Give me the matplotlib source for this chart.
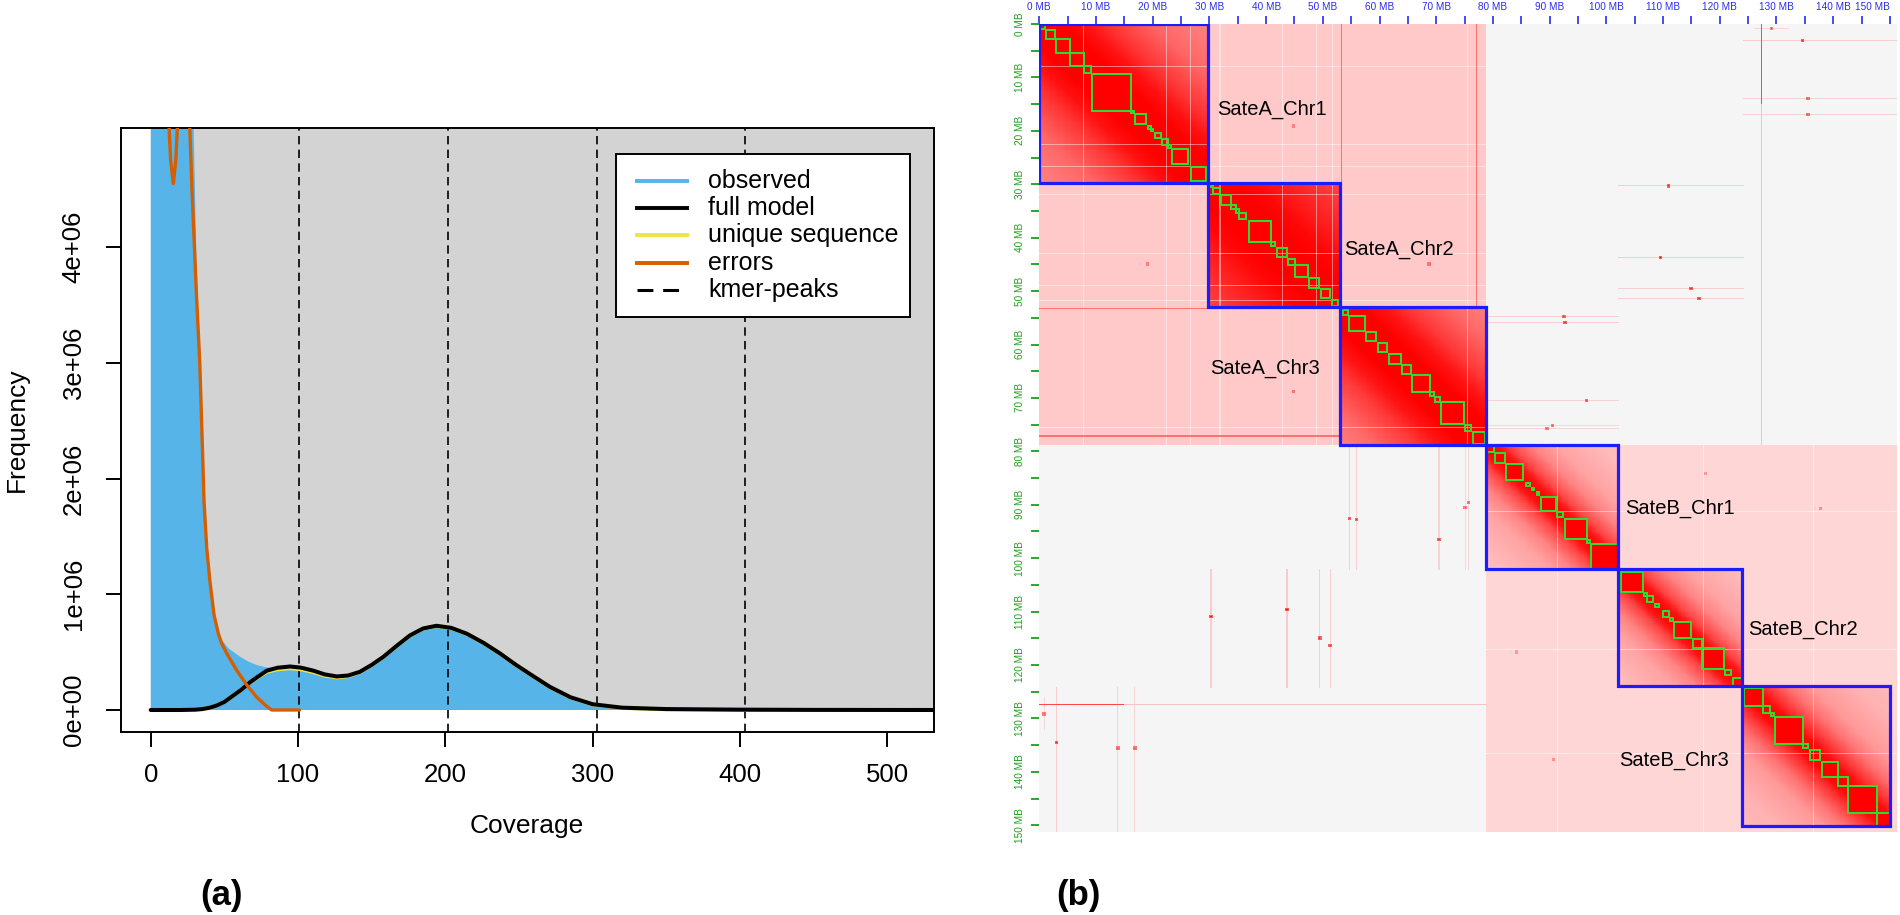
import numpy as np
import matplotlib
matplotlib.use('Agg')
import matplotlib.pyplot as plt
from matplotlib.patches import Rectangle
from matplotlib.lines import Line2D

plt.rcParams['font.family'] = ['Liberation Sans', 'DejaVu Sans']

# ---------------- panel (a) data (GenomeScope profile) ----------------
obs_x = [0, 5, 10, 15, 20, 25, 27, 29, 31, 33.3, 35, 36.2, 38, 40.3, 43, 45.9, 48.2, 53, 60.6,
         66, 71.9, 77, 83.2, 92, 101.3, 112, 123.9, 133, 146.5, 158, 167, 176, 185, 194, 204,
         214.5, 226, 237, 248, 260, 271, 285, 300, 320, 350, 400, 450, 500, 531.8]
obs_y = [9.0, 8.8, 8.5, 8.2, 7.8, 6.6, 5.9, 5.1, 3.9, 3.05, 2.35, 1.9, 1.45, 1.12, 0.84, 0.68, 0.605,
         0.53, 0.461, 0.42, 0.389, 0.372, 0.36, 0.348, 0.34, 0.315, 0.297, 0.305, 0.346, 0.46, 0.56,
         0.65, 0.71, 0.735, 0.72, 0.67, 0.59, 0.50, 0.40, 0.295, 0.20, 0.11, 0.05, 0.02, 0.008,
         0.003, 0.001, 0.0, 0.0]

err_x = [0, 5, 10, 11.8, 13.5, 15.3, 17, 18.7, 20, 22, 24, 26.3, 28, 31, 33.3, 35, 36.2, 38, 40.3,
         43, 45.9, 48, 51.6, 58, 65.2, 72, 78, 82.1, 101]
err_y = [9.5, 8.0, 6.0, 5.2, 4.75, 4.55, 4.75, 5.2, 5.8, 6.3, 6.0, 5.1, 4.5, 3.6, 3.0, 2.3, 1.8, 1.4,
         1.1, 0.82, 0.66, 0.58, 0.49, 0.35, 0.216, 0.11, 0.04, 0.0, 0.0]

model_x = [0, 20, 30, 35, 40, 45, 50, 56, 62, 67.4, 73, 78.8, 86, 94.6, 102, 110.4, 118, 126.3, 134,
           142, 150, 158, 167, 176, 185, 194, 204, 214.5, 226, 237, 248, 260, 271, 285, 300, 320,
           350, 400, 450, 531.8]
model_y = [0, 0, 0.003, 0.008, 0.02, 0.04, 0.07, 0.125, 0.18, 0.24, 0.29, 0.34, 0.365, 0.376, 0.366,
           0.34, 0.308, 0.29, 0.298, 0.33, 0.39, 0.46, 0.555, 0.645, 0.705, 0.728, 0.71, 0.66, 0.58,
           0.49, 0.39, 0.29, 0.2, 0.11, 0.05, 0.02, 0.008, 0.003, 0.001, 0.0]
unique_y = [0, 0, 0.003, 0.008, 0.02, 0.04, 0.07, 0.125, 0.18, 0.24, 0.285, 0.33, 0.352, 0.362, 0.352,
            0.328, 0.298, 0.282, 0.292, 0.327, 0.388, 0.458, 0.553, 0.643, 0.703, 0.726, 0.708, 0.658,
            0.578, 0.488, 0.388, 0.288, 0.198, 0.108, 0.048, 0.018, 0.006, 0.001, 0.0, 0.0]

kmer_peaks = [100.9, 201.8, 302.7, 403.6]
cov_ticks = [0, 100, 200, 300, 400, 500]
freq_ticks = [0, 1e6, 2e6, 3e6, 4e6]
freq_labels = ['0e+00', '1e+06', '2e+06', '3e+06', '4e+06']
legend_labels = ['observed', 'full model', 'unique sequence', 'errors', 'kmer-peaks']

# ---------------- panel (b) data (Hi-C map) ----------------
map_end = 151.2
chrom_bounds = [0, 29.8, 53.0, 78.8, 102.1, 123.9, 150.1]
chrom_names = ['SateA_Chr1', 'SateA_Chr2', 'SateA_Chr3', 'SateB_Chr1', 'SateB_Chr2', 'SateB_Chr3']
label_x = [31.3, 53.7, 30.1, 103.3, 125.0, 102.3]
label_y = [16.0, 42.1, 64.5, 90.7, 113.3, 137.9]

prof_dist = [0, 2, 4, 8, 12, 20, 30]
chr_profiles = [
    [1.0, 1.0, 1.0, 0.93, 0.80, 0.60, 0.48],
    [1.0, 1.0, 1.0, 0.97, 0.90, 0.78, 0.65],
    [1.0, 1.0, 1.0, 0.92, 0.78, 0.58, 0.45],
    [1.0, 0.92, 0.72, 0.48, 0.36, 0.27, 0.24],
    [1.0, 0.92, 0.72, 0.48, 0.36, 0.27, 0.24],
    [1.0, 0.95, 0.80, 0.55, 0.40, 0.30, 0.26],
]
inter_A = 0.21
inter_B = 0.16

tad_start = [0.2, 1.2, 2.9, 5.4, 7.9, 9.3, 16.2, 16.9, 19.1, 19.7, 20.4, 21.6, 22.7, 23.4, 26.8,
             30.1, 30.7, 32.0, 33.8, 34.7, 35.3, 36.9, 40.9, 41.9, 43.9, 45.1, 47.6, 49.6, 51.6,
             53.5, 54.6, 57.6, 59.7, 61.7, 63.9, 65.7, 68.9, 69.8, 70.8, 75.0, 76.4,
             79.0, 80.4, 82.3, 85.9, 86.8, 87.7, 88.5, 91.3, 92.7, 96.6, 97.3,
             102.6, 106.6, 107.1, 108.6, 109.9, 111.2, 111.9, 115.2, 116.9, 120.9, 122.4,
             124.3, 127.7, 129.0, 129.8, 134.7, 135.9, 138.1, 140.9, 142.7, 147.7]
tad_end = [1.0, 2.8, 5.4, 7.9, 9.1, 16.2, 16.7, 18.8, 19.7, 20.1, 21.4, 22.7, 23.2, 26.3, 29.4,
           30.6, 31.9, 33.8, 34.7, 35.3, 36.5, 40.9, 41.6, 43.7, 45.1, 47.4, 49.4, 51.3, 52.7,
           54.5, 57.4, 59.4, 61.4, 63.7, 65.5, 68.9, 69.6, 70.7, 74.9, 76.1, 78.6,
           80.1, 82.1, 85.3, 86.5, 87.3, 88.2, 91.1, 92.3, 96.5, 97.2, 102.0,
           106.4, 107.1, 108.2, 109.2, 111.1, 111.8, 114.9, 116.8, 120.8, 121.9, 124.0,
           127.7, 128.9, 129.6, 134.7, 135.6, 137.7, 140.9, 142.7, 147.7, 150.1]

gap_pos = [7.9, 22.5, 26.7, 31.9, 42.9, 48.9, 51.6, 75.4, 91.3, 117.0, 136.5]
hot_A_rows = [53.3, 77.1]
# trans contacts (A position, B position, strength, streak range along B)
spot_a = [3.1, 30.2, 43.8, 49.5, 51.3, 54.6, 55.9, 70.5, 75.1, 75.7, 13.9, 16.9, 0.9]
spot_b = [134.5, 110.8, 109.5, 114.8, 116.3, 92.5, 92.8, 96.5, 90.5, 89.5, 135.6, 135.6, 129.2]
spot_s = [0.9, 0.9, 0.95, 0.85, 0.85, 0.85, 0.85, 0.8, 0.7, 0.7, 0.75, 0.75, 0.7]
streak_lo = [124.0, 102.1, 102.1, 102.1, 102.1, 78.8, 78.8, 78.8, 78.8, 78.8, 124.0, 124.0, 126.0]
streak_hi = [151.2, 124.0, 124.0, 124.0, 124.0, 102.1, 102.1, 102.1, 102.1, 102.1, 151.2, 151.2, 132.0]
b_locus = 127.3
# cis spots within a subgenome (x, y, strength)
cis_x = [68.7, 19.2, 137.7, 117.5]
cis_y = [44.9, 44.9, 90.8, 84.0]
cis_s = [0.55, 0.5, 0.45, 0.4]

mb_major = list(range(0, 151, 10))
mb_minor = list(range(5, 151, 10))
mb_labels = ['0 MB', '10 MB', '20 MB', '30 MB', '40 MB', '50 MB', '60 MB', '70 MB', '80 MB',
             '90 MB', '100 MB', '110 MB', '120 MB', '130 MB', '140 MB', '150 MB']

# ---------------- figure ----------------
W, H = 1900, 915
fig = plt.figure(figsize=(W / 100, H / 100), dpi=100)

def fr(x0, y0, x1, y1):
    return [x0 / W, 1 - y1 / H, (x1 - x0) / W, (y1 - y0) / H]

# ===== panel (a) =====
ax = fig.add_axes(fr(120.7, 128.3, 934.0, 731.7))
ax.set_xlim(-20.4, 531.8)
ax.set_ylim(-0.1876e6, 5.028e6)
M = 1e6
ax.add_patch(Rectangle((0, 0), 600, 6 * M, facecolor='#D3D3D3', edgecolor='none', zorder=1))
ax.fill_between(obs_x, 0, [v * M for v in obs_y], color='#56B4E9', lw=0, zorder=2)
for p in kmer_peaks:
    ax.axvline(p, color='black', lw=1.2, dashes=(5, 3.2), zorder=3)
ax.plot(model_x, [v * M for v in unique_y], color='#F0E442', lw=2.9, zorder=4, solid_capstyle='round')
ax.plot(model_x, [v * M for v in model_y], color='black', lw=2.9, zorder=5, solid_capstyle='round')
ax.plot(err_x, [v * M for v in err_y], color='#D55E00', lw=2.4, zorder=6, solid_capstyle='round')

ax.set_xticks(cov_ticks)
ax.set_xticklabels([str(t) for t in cov_ticks])
ax.set_yticks(freq_ticks)
ax.set_yticklabels(freq_labels, rotation=90, va='center')
ax.tick_params(axis='x', length=10.8, width=1.4, pad=11.5, labelsize=18.5)
ax.tick_params(axis='y', length=10.8, width=1.4, pad=14.5, labelsize=18.5)
for s in ax.spines.values():
    s.set_linewidth(1.4)
fig.text(16.5 / W, 1 - 430 / H, 'Frequency', rotation=90, ha='center', va='center', fontsize=19)
fig.text(527 / W, 1 - 826 / H, 'Coverage', ha='center', va='center', fontsize=19)

# legend (drawn in axes fraction)
def af(X, Y):
    return ((X - 120.7) / 813.3, (731.7 - Y) / 603.7)

lx0, ly0 = af(616, 316.4)
lx1, ly1 = af(910, 154)
ax.add_patch(Rectangle((lx0, ly0), lx1 - lx0, ly1 - ly0, transform=ax.transAxes,
                       facecolor='white', edgecolor='black', lw=1.4, zorder=10))
leg_rows = [181, 208, 235, 262.5, 289.6]
leg_cols = ['#56B4E9', 'black', '#F0E442', '#D55E00', 'black']
for i, (yy, col, lab) in enumerate(zip(leg_rows, leg_cols, legend_labels)):
    xa, ya = af(637, yy)
    xb, _ = af(687, yy)
    if i == 4:
        ln = Line2D([xa, xb], [ya, ya], transform=ax.transAxes, color=col, lw=2.2,
                    dashes=(5.2, 3.2), zorder=11)
    else:
        ln = Line2D([xa, xb], [ya, ya], transform=ax.transAxes, color=col, lw=2.8, zorder=11)
    ax.add_line(ln)
    xt, _ = af(708, yy)
    ax.text(xt, ya, lab, transform=ax.transAxes, ha='left', va='center', fontsize=18, zorder=12)

fig.text(221 / W, 1 - 896 / H, '(a)', ha='center', va='center', fontsize=25, fontweight='bold')

# ===== panel (b) =====
axm = fig.add_axes(fr(1039.3, 24.0, 1896.7, 831.7))
res = 0.2
nb = int(round(map_end / res))
cen = (np.arange(nb) + 0.5) * res
cid = np.clip(np.searchsorted(chrom_bounds, cen, side='right') - 1, 0, 6)
sub = np.where(cid < 3, 0, 1)
dist = np.abs(cen[:, None] - cen[None, :])
same_sub = sub[:, None] == sub[None, :]
v = np.zeros((nb, nb))
v[same_sub & (sub[:, None] == 0)] = inter_A
v[same_sub & (sub[:, None] == 1)] = inter_B
for k in range(6):
    m = (cid[:, None] == k) & (cid[None, :] == k)
    v[m] = np.interp(dist[m], prof_dist, chr_profiles[k])
for s0, e0 in zip(tad_start, tad_end):
    i0, i1 = int(s0 / res), int(np.ceil(e0 / res))
    v[i0:i1, i0:i1] = 1.0

def idx(p):
    return min(max(int(p / res), 0), nb - 1)

for g in gap_pos:
    i = idx(g)
    v[i, :] *= 0.55
    v[:, i] *= 0.55
A_idx = np.where(sub == 0)[0]
for r in hot_A_rows:
    i = idx(r)
    other = A_idx[cid[A_idx] != cid[i]]
    v[i, other] = np.maximum(v[i, other], 0.55)
    v[other, i] = np.maximum(v[other, i], 0.55)
# B locus with contacts along A
bi = idx(b_locus)
v[A_idx, bi] = np.maximum(v[A_idx, bi], 0.2)
v[bi, A_idx] = np.maximum(v[bi, A_idx], 0.2)
strong = A_idx[cen[A_idx] < 15]
v[strong, bi] = np.maximum(v[strong, bi], 0.7)
v[bi, strong] = np.maximum(v[bi, strong], 0.7)

def put(i, j, val):
    v[i, j] = np.maximum(v[i, j], val)
    v[j, i] = np.maximum(v[j, i], val)

for a, b, s, lo, hi in zip(spot_a, spot_b, spot_s, streak_lo, streak_hi):
    i, j = idx(a), idx(b)
    for jj in range(idx(lo), idx(hi) + 1):
        put(i, jj, s * 0.18)
    for di in (-1, 0, 1):
        for dj in (-1, 0, 1):
            put(i + di, j + dj, s if (di == 0 and dj == 0) else s * 0.7)
for x, y, s in zip(cis_x, cis_y, cis_s):
    i, j = idx(y), idx(x)
    for di in (-1, 0, 1):
        for dj in (-1, 0, 1):
            put(i + di, j + dj, s)

v = np.clip(v, 0, 1)
base = np.where(same_sub, 1.0, 0.963)
rgb = np.empty((nb, nb, 3))
rgb[..., 0] = base * (1 - v) + v
rgb[..., 1] = base * (1 - v)
rgb[..., 2] = base * (1 - v)
axm.imshow(rgb, extent=(0, map_end, map_end, 0), aspect='auto', interpolation='nearest', zorder=0)
axm.set_xlim(0, map_end)
axm.set_ylim(map_end, 0)

for s0, e0 in zip(tad_start, tad_end):
    axm.add_patch(Rectangle((s0, s0), e0 - s0, e0 - s0, fill=False, edgecolor='#2EE02E',
                            lw=1.4, zorder=3))
for k in range(6):
    s0, e0 = chrom_bounds[k], chrom_bounds[k + 1]
    axm.add_patch(Rectangle((s0, s0), e0 - s0, e0 - s0, fill=False, edgecolor='#1C1CFF',
                            lw=2.3, zorder=4))
for name, x, y in zip(chrom_names, label_x, label_y):
    axm.text(x, y, name, ha='left', va='center', fontsize=14.5, color='black', zorder=5)

blue = '#2B2BF5'
green = '#1E9E1E'
axm.set_xticks(mb_major)
axm.set_xticklabels(mb_labels)
axm.set_xticks(mb_minor, minor=True)
axm.set_yticks(mb_major)
axm.set_yticklabels(mb_labels, rotation=90, va='center')
axm.set_yticks(mb_minor, minor=True)
axm.xaxis.set_ticks_position('top')
axm.tick_params(axis='x', which='both', top=True, bottom=False, labeltop=True, labelbottom=False,
                colors=blue, length=5.5, width=1.2, pad=3, labelsize=7.2)
axm.tick_params(axis='y', which='both', left=True, right=False, colors=green, length=6,
                width=1.3, pad=4, labelsize=7.2)
xt_labels = axm.get_xticklabels()
xt_labels[-1].set_horizontalalignment('right')
for s in axm.spines.values():
    s.set_visible(False)

fig.text(1078 / W, 1 - 895 / H, '(b)', ha='center', va='center', fontsize=25, fontweight='bold')

fig.savefig('out.png', dpi=100)
